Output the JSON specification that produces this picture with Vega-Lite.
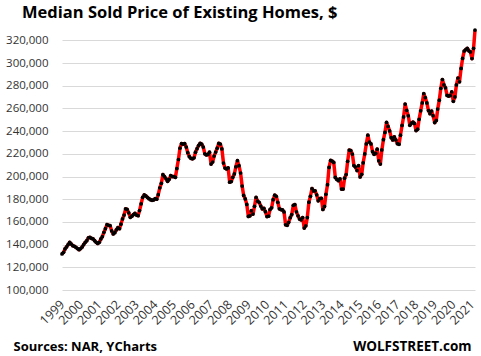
{
"$schema": "https://vega.github.io/schema/vega-lite/v6.json",
"width": 413, "height": 261,
"autosize": {"type": "none"},
"padding": {"left": 62, "top": 29, "right": 6, "bottom": 66},
"background": "white",
"title": {"text": "Median Sold Price of Existing Homes, $", "anchor": "start", "frame": "group", "dx": -40, "dy": 18, "offset": 12, "baseline": "alphabetic", "font": "Open Sans", "fontSize": 16.5, "fontWeight": "bold", "color": "#000000"},
"config": {"view": {"stroke": null}},
"data": {"format": {"parse": {"date": "date:'%Y-%m'"}}, "values": [
{"date":"1999-01","price":131800},{"date":"1999-02","price":133200},{"date":"1999-03","price":136200},{"date":"1999-04","price":138000},{"date":"1999-05","price":140000},{"date":"1999-06","price":142000},{"date":"1999-07","price":140500},{"date":"1999-08","price":139000},{"date":"1999-09","price":138500},{"date":"1999-10","price":137600},{"date":"1999-11","price":136500},{"date":"1999-12","price":135500},
{"date":"2000-01","price":136500},{"date":"2000-02","price":138000},{"date":"2000-03","price":140000},{"date":"2000-04","price":142000},{"date":"2000-05","price":143500},{"date":"2000-06","price":146000},{"date":"2000-07","price":146400},{"date":"2000-08","price":145500},{"date":"2000-09","price":145000},{"date":"2000-10","price":143500},{"date":"2000-11","price":142000},{"date":"2000-12","price":141000},
{"date":"2001-01","price":142000},{"date":"2001-02","price":145000},{"date":"2001-03","price":147000},{"date":"2001-04","price":150800},{"date":"2001-05","price":154000},{"date":"2001-06","price":157600},{"date":"2001-07","price":157000},{"date":"2001-08","price":156700},{"date":"2001-09","price":152000},{"date":"2001-10","price":149400},{"date":"2001-11","price":150500},{"date":"2001-12","price":153000},
{"date":"2002-01","price":155000},{"date":"2002-02","price":154000},{"date":"2002-03","price":158000},{"date":"2002-04","price":162600},{"date":"2002-05","price":166000},{"date":"2002-06","price":171500},{"date":"2002-07","price":171000},{"date":"2002-08","price":168000},{"date":"2002-09","price":164000},{"date":"2002-10","price":165000},{"date":"2002-11","price":166500},{"date":"2002-12","price":167600},
{"date":"2003-01","price":166000},{"date":"2003-02","price":165500},{"date":"2003-03","price":170000},{"date":"2003-04","price":176000},{"date":"2003-05","price":181700},{"date":"2003-06","price":183800},{"date":"2003-07","price":183000},{"date":"2003-08","price":181700},{"date":"2003-09","price":180500},{"date":"2003-10","price":179600},{"date":"2003-11","price":179000},{"date":"2003-12","price":179400},
{"date":"2004-01","price":180500},{"date":"2004-02","price":180000},{"date":"2004-03","price":184000},{"date":"2004-04","price":190000},{"date":"2004-05","price":194000},{"date":"2004-06","price":201700},{"date":"2004-07","price":200000},{"date":"2004-08","price":198000},{"date":"2004-09","price":195800},{"date":"2004-10","price":197500},{"date":"2004-11","price":200800},{"date":"2004-12","price":200000},
{"date":"2005-01","price":200000},{"date":"2005-02","price":199300},{"date":"2005-03","price":207000},{"date":"2005-04","price":215000},{"date":"2005-05","price":225000},{"date":"2005-06","price":229000},{"date":"2005-07","price":228500},{"date":"2005-08","price":229000},{"date":"2005-09","price":226000},{"date":"2005-10","price":221000},{"date":"2005-11","price":217500},{"date":"2005-12","price":216000},
{"date":"2006-01","price":215600},{"date":"2006-02","price":216500},{"date":"2006-03","price":221400},{"date":"2006-04","price":224500},{"date":"2006-05","price":227300},{"date":"2006-06","price":229300},{"date":"2006-07","price":228500},{"date":"2006-08","price":226000},{"date":"2006-09","price":220000},{"date":"2006-10","price":219000},{"date":"2006-11","price":219500},{"date":"2006-12","price":221400},
{"date":"2007-01","price":211000},{"date":"2007-02","price":212800},{"date":"2007-03","price":218000},{"date":"2007-04","price":221500},{"date":"2007-05","price":225000},{"date":"2007-06","price":229200},{"date":"2007-07","price":228600},{"date":"2007-08","price":224300},{"date":"2007-09","price":211900},{"date":"2007-10","price":207500},{"date":"2007-11","price":206700},{"date":"2007-12","price":207600},
{"date":"2008-01","price":195000},{"date":"2008-02","price":195600},{"date":"2008-03","price":199300},{"date":"2008-04","price":202300},{"date":"2008-05","price":208600},{"date":"2008-06","price":214000},{"date":"2008-07","price":209500},{"date":"2008-08","price":203100},{"date":"2008-09","price":191600},{"date":"2008-10","price":183300},{"date":"2008-11","price":180300},{"date":"2008-12","price":175400},
{"date":"2009-01","price":164800},{"date":"2009-02","price":165400},{"date":"2009-03","price":169900},{"date":"2009-04","price":166900},{"date":"2009-05","price":173700},{"date":"2009-06","price":181600},{"date":"2009-07","price":178300},{"date":"2009-08","price":177200},{"date":"2009-09","price":174000},{"date":"2009-10","price":171500},{"date":"2009-11","price":172000},{"date":"2009-12","price":169000},
{"date":"2010-01","price":164700},{"date":"2010-02","price":165100},{"date":"2010-03","price":170900},{"date":"2010-04","price":172400},{"date":"2010-05","price":179600},{"date":"2010-06","price":183500},{"date":"2010-07","price":182600},{"date":"2010-08","price":177300},{"date":"2010-09","price":171500},{"date":"2010-10","price":170900},{"date":"2010-11","price":170600},{"date":"2010-12","price":168800},
{"date":"2011-01","price":157500},{"date":"2011-02","price":157000},{"date":"2011-03","price":159600},{"date":"2011-04","price":163700},{"date":"2011-05","price":166500},{"date":"2011-06","price":174600},{"date":"2011-07","price":175300},{"date":"2011-08","price":168900},{"date":"2011-09","price":165400},{"date":"2011-10","price":162500},{"date":"2011-11","price":161800},{"date":"2011-12","price":163800},
{"date":"2012-01","price":154600},{"date":"2012-02","price":156600},{"date":"2012-03","price":163800},{"date":"2012-04","price":177400},{"date":"2012-05","price":182600},{"date":"2012-06","price":189400},{"date":"2012-07","price":187300},{"date":"2012-08","price":187400},{"date":"2012-09","price":183900},{"date":"2012-10","price":178600},{"date":"2012-11","price":180600},{"date":"2012-12","price":180800},
{"date":"2013-01","price":171000},{"date":"2013-02","price":173600},{"date":"2013-03","price":184300},{"date":"2013-04","price":192800},{"date":"2013-05","price":208000},{"date":"2013-06","price":214200},{"date":"2013-07","price":213500},{"date":"2013-08","price":212400},{"date":"2013-09","price":199200},{"date":"2013-10","price":197400},{"date":"2013-11","price":196300},{"date":"2013-12","price":198000},
{"date":"2014-01","price":188900},{"date":"2014-02","price":189000},{"date":"2014-03","price":198500},{"date":"2014-04","price":201700},{"date":"2014-05","price":213400},{"date":"2014-06","price":223300},{"date":"2014-07","price":222900},{"date":"2014-08","price":219800},{"date":"2014-09","price":209700},{"date":"2014-10","price":208300},{"date":"2014-11","price":205300},{"date":"2014-12","price":209500},
{"date":"2015-01","price":199600},{"date":"2015-02","price":202000},{"date":"2015-03","price":212100},{"date":"2015-04","price":219900},{"date":"2015-05","price":228700},{"date":"2015-06","price":236400},{"date":"2015-07","price":230400},{"date":"2015-08","price":228700},{"date":"2015-09","price":221900},{"date":"2015-10","price":219600},{"date":"2015-11","price":220300},{"date":"2015-12","price":224100},
{"date":"2016-01","price":213800},{"date":"2016-02","price":211000},{"date":"2016-03","price":223400},{"date":"2016-04","price":232500},{"date":"2016-05","price":238900},{"date":"2016-06","price":247700},{"date":"2016-07","price":244100},{"date":"2016-08","price":240200},{"date":"2016-09","price":234200},{"date":"2016-10","price":232200},{"date":"2016-11","price":234900},{"date":"2016-12","price":232200},
{"date":"2017-01","price":228900},{"date":"2017-02","price":228400},{"date":"2017-03","price":236400},{"date":"2017-04","price":245000},{"date":"2017-05","price":252500},{"date":"2017-06","price":263800},{"date":"2017-07","price":258300},{"date":"2017-08","price":253500},{"date":"2017-09","price":245100},{"date":"2017-10","price":247000},{"date":"2017-11","price":248000},{"date":"2017-12","price":246800},
{"date":"2018-01","price":240500},{"date":"2018-02","price":241700},{"date":"2018-03","price":250400},{"date":"2018-04","price":257900},{"date":"2018-05","price":264800},{"date":"2018-06","price":273000},{"date":"2018-07","price":269600},{"date":"2018-08","price":264800},{"date":"2018-09","price":258100},{"date":"2018-10","price":255400},{"date":"2018-11","price":257700},{"date":"2018-12","price":253600},
{"date":"2019-01","price":247500},{"date":"2019-02","price":249400},{"date":"2019-03","price":259400},{"date":"2019-04","price":267300},{"date":"2019-05","price":277700},{"date":"2019-06","price":285400},{"date":"2019-07","price":280800},{"date":"2019-08","price":278200},{"date":"2019-09","price":271500},{"date":"2019-10","price":270900},{"date":"2019-11","price":271300},{"date":"2019-12","price":274500},
{"date":"2020-01","price":266300},{"date":"2020-02","price":270100},{"date":"2020-03","price":280700},{"date":"2020-04","price":286800},{"date":"2020-05","price":283500},{"date":"2020-06","price":295300},{"date":"2020-07","price":304100},{"date":"2020-08","price":310600},{"date":"2020-09","price":311800},{"date":"2020-10","price":313000},{"date":"2020-11","price":310800},{"date":"2020-12","price":309800},
{"date":"2021-01","price":303900},{"date":"2021-02","price":313000},{"date":"2021-03","price":329100}
]},
"encoding": {
"x": {"field": "date", "type": "temporal",
 "scale": {"domain": [{"year": 1999, "month": 1, "date": 1}, {"year": 2021, "month": 3, "date": 1}], "nice": false},
 "axis": {"title": "Sources: NAR, YCharts", "titleAnchor": "start", "titleAlign": "left", "titleX": -49, "titleY": 60, "titleBaseline": "alphabetic", "titleFont": "Open Sans", "titleFontSize": 13, "titleFontWeight": "bold", "titleColor": "#000000",
  "format": "%Y", "tickCount": {"interval": "year", "step": 1}, "labelAngle": -45, "labelAlign": "right", "labelBaseline": "middle", "labelPadding": 12, "labelFont": "Open Sans", "labelFontSize": 12.5, "labelColor": "#333333", "labelOverlap": false, "labelFlush": false, "grid": false, "ticks": false, "domain": false}},
"y": {"field": "price", "type": "quantitative",
 "scale": {"domain": [100000, 330000], "nice": false, "zero": false},
 "axis": {"title": "WOLFSTREET.com", "titleAngle": 0, "titleAlign": "right", "titleX": 409, "titleY": 321, "titleBaseline": "alphabetic", "titleFont": "Open Sans", "titleFontSize": 13.5, "titleFontWeight": "bold", "titleColor": "#000000",
  "values": [100000,120000,140000,160000,180000,200000,220000,240000,260000,280000,300000,320000], "format": ",.0f", "labelFont": "Open Sans", "labelFontSize": 11.5, "labelColor": "#333333", "labelPadding": 14, "ticks": false, "domain": false, "grid": true, "gridColor": "#D9D9D9", "gridWidth": 1}}
},
"layer": [
 {"mark": {"type": "line", "color": "#FF0000", "strokeWidth": 3.5, "strokeJoin": "round"}},
 {"mark": {"type": "point", "filled": true, "color": "#000000", "size": 14, "opacity": 1}}
]
}
